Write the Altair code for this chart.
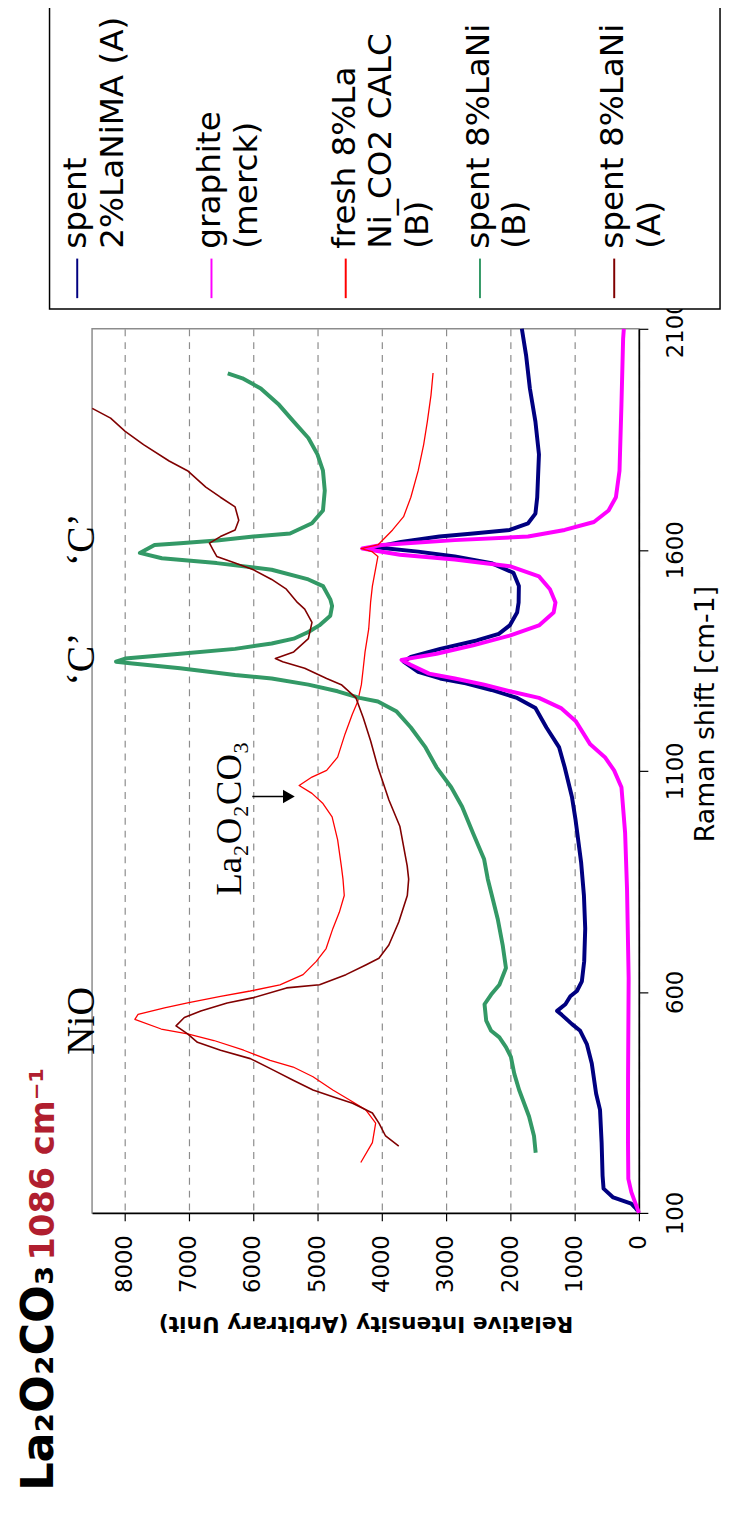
import altair as alt
import pandas as pd

# ---------------- data ----------------
SERIES = ["spent 2%LaNiMA (A)", "graphite (merck)", "fresh 8%La Ni_CO2 CALC (B)",
          "spent 8%LaNi (B)", "spent 8%LaNi (A)"]
LEGEND_LABELS = ["spent\n2%LaNiMA (A)", "graphite\n(merck)", "fresh 8%La\nNi_CO2 CALC\n(B)",
                 "spent 8%LaNi\n(B)", "spent 8%LaNi\n(A)"]
COLORS = ["#000080", "#FF00FF", "#FF0000", "#339966", "#800000"]
WIDTHS = [4, 4, 1.3, 4, 1.6]

NAVY_RAMAN = [105, 112, 121, 135, 155, 184, 259, 333, 370, 438, 482, 512, 527, 548, 557, 572,
              590, 602, 624, 669, 743, 818, 892, 989, 1041, 1108, 1153, 1198, 1242, 1265, 1283,
              1298, 1309, 1324, 1347, 1358, 1376, 1395, 1410, 1429, 1458, 1481, 1518, 1548, 1570,
              1585, 1596, 1606, 1618, 1630, 1637, 1645, 1660, 1682, 1719, 1816, 1890, 1965, 2040,
              2100]
NAVY_INT = [20, 60, 120, 400, 550, 565, 580, 605, 666, 733, 810, 913, 1041, 1200, 1272, 1143,
            1066, 964, 887, 851, 835, 855, 898, 985, 1041, 1154, 1240, 1438, 1609, 1894, 2292,
            2692, 3089, 3431, 3658, 3545, 3089, 2520, 2178, 2008, 1894, 1870, 1866, 1951, 2292,
            2862, 3431, 4100, 3700, 3100, 2577, 2008, 1723, 1609, 1581, 1554, 1609, 1695, 1754,
            1820]

MAGENTA_RAMAN = [100, 147, 177, 260, 408, 631, 832, 960, 1063, 1101, 1131, 1160, 1213, 1242,
                 1265, 1280, 1295, 1309, 1320, 1340, 1351, 1365, 1384, 1406, 1429, 1458, 1481,
                 1511, 1540, 1563, 1578, 1589, 1603, 1611, 1622, 1630, 1645, 1663, 1689, 1719,
                 1779, 1928, 2077, 2100]
MAGENTA_INT = [0, 118, 165, 170, 169, 160, 185, 215, 272, 386, 529, 757, 985, 1212, 1554, 2008,
               2406, 2862, 3262, 3550, 3690, 3146, 2577, 2008, 1554, 1326, 1297, 1383, 1554,
               2008, 2862, 3715, 4300, 4000, 2862, 1723, 1154, 700, 472, 358, 302, 272, 246, 235]

RED_RAMAN = [214, 259, 303, 333, 356, 378, 408, 430, 445, 468, 490, 505, 516, 538, 549, 564,
             575, 590, 602, 616, 639, 669, 698, 743, 780, 818, 855, 885, 944, 996, 1026, 1049,
             1067, 1086, 1101, 1131, 1183, 1228, 1257, 1295, 1332, 1369, 1421, 1481, 1518, 1585,
             1596, 1603, 1612, 1645, 1675, 1719, 1779, 1838, 1890, 1950, 2000]
RED_INT = [4323, 4143, 4092, 4246, 4503, 4758, 5066, 5374, 5733, 6143, 6605, 7015, 7426, 7835,
           7785, 7374, 7015, 6503, 6041, 5580, 5220, 5015, 4862, 4758, 4657, 4580, 4600, 4626,
           4683, 4769, 4911, 5082, 5281, 5082, 4854, 4683, 4569, 4455, 4371, 4314, 4285, 4257,
           4200, 4171, 4143, 4057, 4150, 4320, 4050, 3829, 3658, 3545, 3431, 3346, 3289, 3232,
           3200]

GREEN_RAMAN = [236, 274, 318, 348, 378, 415, 453, 475, 497, 512, 535, 572, 594, 616, 654, 706,
               765, 810, 855, 900, 959, 1019, 1063, 1108, 1153, 1198, 1235, 1257, 1265, 1280,
               1295, 1309, 1317, 1332, 1343, 1347, 1354, 1365, 1376, 1388, 1399, 1414, 1429,
               1451, 1473, 1488, 1518, 1533, 1555, 1570, 1581, 1593, 1611, 1615, 1621, 1630,
               1637, 1660, 1689, 1734, 1779, 1816, 1853, 1890, 1928, 1965, 1988, 1999]
GREEN_INT = [1605, 1631, 1708, 1785, 1862, 1938, 1990, 2067, 2169, 2297, 2374, 2400, 2297, 2169,
             2067, 2118, 2195, 2272, 2349, 2406, 2578, 2748, 2918, 3146, 3317, 3545, 3772, 4057,
             4342, 4683, 5138, 5708, 6277, 7131, 7871, 8128, 7985, 7131, 6277, 5708, 5366, 5138,
             4968, 4797, 4769, 4797, 4911, 5138, 5708, 6562, 7415, 7757, 7529, 7131, 6562, 5992,
             5423, 5082, 4911, 4883, 4911, 4997, 5138, 5366, 5594, 5878, 6163, 6391]

DARKRED_RAMAN = [251, 274, 303, 326, 348, 363, 378, 400, 423, 449, 468, 486, 505, 523, 542, 557,
                 575, 587, 609, 616, 639, 661, 676, 706, 758, 818, 855, 885, 974, 1034, 1108,
                 1168, 1220, 1265, 1295, 1309, 1332, 1347, 1354, 1369, 1399, 1436, 1466, 1481,
                 1511, 1533, 1555, 1570, 1585, 1600, 1615, 1630, 1645, 1667, 1697, 1719, 1742,
                 1779, 1801, 1838, 1868, 1898, 1920]
DARKRED_INT = [3733, 3938, 4041, 4143, 4451, 4758, 5066, 5374, 5682, 6041, 6503, 6862, 7015,
               7195, 7066, 6810, 6400, 5990, 5477, 4964, 4554, 4246, 4041, 3887, 3733, 3600,
               3579, 3602, 3715, 3886, 4057, 4171, 4285, 4398, 4626, 4854, 5195, 5537, 5651,
               5366, 5138, 5082, 5195, 5309, 5480, 5708, 5992, 6277, 6562, 6619, 6675, 6505,
               6277, 6220, 6277, 6505, 6732, 7017, 7302, 7700, 7985, 8212, 8497]

RAMAN = [NAVY_RAMAN, MAGENTA_RAMAN, RED_RAMAN, GREEN_RAMAN, DARKRED_RAMAN]
INTENSITY = [NAVY_INT, MAGENTA_INT, RED_INT, GREEN_INT, DARKRED_INT]

RAMAN_TICKS = [100, 600, 1100, 1600, 2100]
INTENSITY_TICKS = [0, 1000, 2000, 3000, 4000, 5000, 6000, 7000, 8000]

PEAK_LABELS = ["NiO", "\u2018C\u2019", "\u2018C\u2019"]
PEAK_RAMAN = [534, 1353, 1623]
PEAK_INT = [8469, 8469, 8469]

CARB_LABEL = "La\u2082O\u2082CO\u2083"
CARB_RAMAN = 818
CARB_INT = 6179
ARROW_RAMAN = 1042
ARROW_FROM = 6010
ARROW_TO = 5480
ARROW_HEAD = 5441

TITLE_MAIN = "La\u2082O\u2082CO\u2083"
TITLE_PEAK = "1086 cm\u207b\u00b9"

# ---------------- chart ----------------
SANS = "DejaVu Sans"
SERIF = "Liberation Serif"

xscale = alt.Scale(domain=[0, 8500], reverse=True, nice=False, zero=False)
yscale = alt.Scale(domain=[100, 2100], nice=False, zero=False)

xaxis = alt.Axis(values=INTENSITY_TICKS, orient="bottom", format="d",
                 labelAngle=270, labelAlign="right", labelBaseline="middle",
                 labelFont=SANS, labelFontSize=23, labelColor="black", labelPadding=14,
                 labelOverlap=False, tickSize=8, tickColor="black", tickWidth=1.2,
                 domainColor="black", domainWidth=1.5,
                 grid=True, gridColor="#8c8c8c", gridDash=[7, 6], gridWidth=1.2,
                 title="Relative Intensity (Arbitrary Unit)", titleAngle=180,
                 titleBaseline="bottom", titleAlign="center", titleFont=SANS,
                 titleFontSize=22, titleFontWeight="bold", titleColor="black",
                 titlePadding=19)

yaxis = alt.Axis(values=RAMAN_TICKS, orient="right", format="d",
                 labelAngle=270, labelAlign="center", labelBaseline="top",
                 labelFont=SANS, labelFontSize=23, labelColor="black", labelPadding=17,
                 labelOverlap=False, labelFlush=False, tickSize=9, tickColor="black",
                 tickWidth=1.2, domainColor="black", domainWidth=1.5, grid=False,
                 title="Raman shift [cm-1]", titleAngle=270, titleBaseline="top",
                 titleAlign="center", titleFont=SANS, titleFontSize=27,
                 titleFontWeight="normal", titleColor="black", titlePadding=5, titleY=389)

layers = []
for k in range(len(SERIES)):
    df = pd.DataFrame({"R": RAMAN[k], "I": INTENSITY[k], "idx": range(len(RAMAN[k]))})
    layers.append(
        alt.Chart(df).mark_line(color=COLORS[k], strokeWidth=WIDTHS[k], strokeJoin="round")
        .encode(x=alt.X("I:Q", scale=xscale, axis=xaxis),
                y=alt.Y("R:Q", scale=yscale, axis=yaxis),
                order=alt.Order("idx:Q"))
    )

peaks_df = pd.DataFrame({"label": PEAK_LABELS, "R": PEAK_RAMAN, "I": PEAK_INT})
peaks = alt.Chart(peaks_df).mark_text(angle=270, align="center", baseline="alphabetic",
                                       font=SERIF, fontSize=40, color="black").encode(
    x=alt.X("I:Q", scale=xscale, axis=xaxis), y=alt.Y("R:Q", scale=yscale, axis=yaxis),
    text="label:N")

carb_df = pd.DataFrame({"label": [CARB_LABEL], "R": [CARB_RAMAN], "I": [CARB_INT]})
carb = alt.Chart(carb_df).mark_text(angle=270, align="left", baseline="alphabetic",
                                     font=SERIF, fontSize=37, color="black").encode(
    x=alt.X("I:Q", scale=xscale, axis=xaxis), y=alt.Y("R:Q", scale=yscale, axis=yaxis),
    text="label:N")

arrow_df = pd.DataFrame({"R": [ARROW_RAMAN], "I": [ARROW_FROM], "I2": [ARROW_TO],
                         "H": [ARROW_HEAD]})
arrow_line = alt.Chart(arrow_df).mark_rule(color="black", strokeWidth=1.5).encode(
    x=alt.X("I:Q", scale=xscale, axis=xaxis), x2="I2:Q",
    y=alt.Y("R:Q", scale=yscale, axis=yaxis))
arrow_head = alt.Chart(arrow_df).mark_point(shape="triangle-right", filled=True, size=190,
                                             color="black", opacity=1).encode(
    x=alt.X("H:Q", scale=xscale, axis=xaxis), y=alt.Y("R:Q", scale=yscale, axis=yaxis))

main = alt.layer(*layers, peaks, carb, arrow_line, arrow_head)

# ---- legend (rotated, drawn above the plot) ----
leg_df = pd.DataFrame({"series": SERIES, "label": LEGEND_LABELS, "color": COLORS})
leg_scale = alt.Scale(type="point", domain=SERIES, range=[-15, 528], padding=0)
one = pd.DataFrame({"a": [0]})

leg_box = alt.Chart(one).mark_rect(fill="white", stroke="black", strokeWidth=1.5).encode(
    x=alt.value(-43), x2=alt.value(635), y=alt.value(-340), y2=alt.value(-20))
leg_marks = alt.Chart(leg_df).mark_rule(strokeWidth=2).encode(
    x=alt.X("series:N", scale=leg_scale, axis=None),
    y=alt.value(-71), y2=alt.value(-31),
    color=alt.Color("color:N", scale=None, legend=None))
leg_text = alt.Chart(leg_df).mark_text(angle=270, align="left", baseline="top", font=SANS,
                                        fontSize=33, lineBreak="\n", lineHeight=37,
                                        xOffset=-17, color="black").encode(
    x=alt.X("series:N", scale=leg_scale, axis=None), y=alt.value(-81), text="label:N")

title_a = alt.Chart(one).mark_text(angle=270, align="left", baseline="alphabetic", font=SANS,
                                    fontSize=45, fontWeight="bold", color="black",
                                    text=TITLE_MAIN).encode(x=alt.value(-40), y=alt.value(1175))
title_b = alt.Chart(one).mark_text(angle=270, align="left", baseline="alphabetic", font=SANS,
                                    fontSize=34, fontWeight="bold", color="#B01E2F",
                                    text=TITLE_PEAK).encode(x=alt.value(-38), y=alt.value(942))

legend = alt.layer(leg_box, leg_marks, leg_text, title_a, title_b)

chart = alt.layer(main, legend).resolve_scale(x="independent").properties(
    width=553, height=894,
    padding={"left": 85, "top": 316, "right": 85, "bottom": 290},
    autosize=alt.AutoSizeParams(type="none"),
    background="white",
).configure_view(stroke="#8c8c8c", strokeWidth=1.5)

chart.save("out.html", embed_options={"renderer": "svg", "actions": False})
